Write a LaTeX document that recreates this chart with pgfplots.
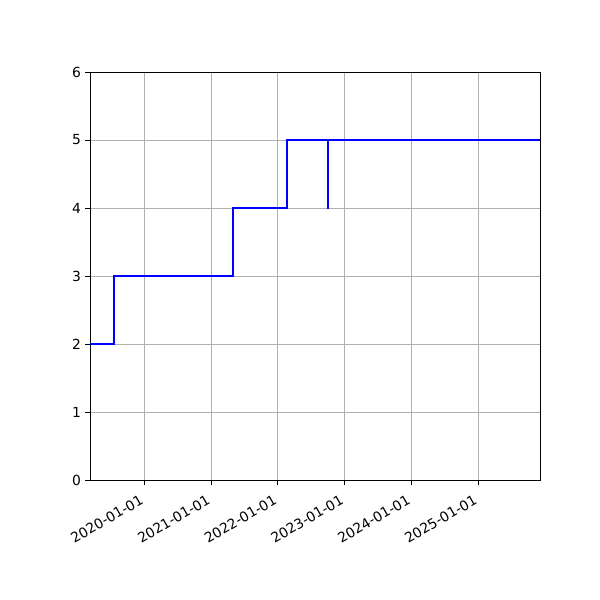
\documentclass[border=0pt]{standalone}
\usepackage{fontspec}
\setmainfont{DejaVu Sans}
\usepackage{pgfplots}
\pgfplotsset{compat=1.18}

% x is in days from 2020-01-01
\begin{document}
\begin{tikzpicture}
\fill[white] (-67.5pt,-90pt) rectangle (382.5pt,360pt);
\begin{axis}[
    at={(0,0)}, anchor=south west,
    scale only axis, width=337.5pt, height=306pt,
    xmin=-297, xmax=2165, ymin=0, ymax=6,
    xtick={0,366,731,1096,1461,1827},
    xticklabels={2020-01-01,2021-01-01,2022-01-01,2023-01-01,2024-01-01,2025-01-01},
    ytick={0,1,2,3,4,5,6},
    xtick pos=left, ytick pos=left,
    tick align=outside,
    major tick length=3.6pt,
    tick style={black, line width=0.6pt},
    axis line style={line width=0.6pt},
    grid=major,
    major grid style={color=black!31, line width=0.6pt},
    tick label style={font=\fontsize{10.4pt}{12pt}\selectfont},
    xticklabel style={xshift=-3.5pt, yshift=-5.5pt, rotate=30, anchor=north east, inner sep=1pt},
    yticklabel style={inner sep=1pt, xshift=-2pt},
    /pgf/number format/assume math mode=true,
]
\addplot[blue, line width=1.4pt, const plot, mark=none] coordinates {
    (-297,2) (-164,3) (485,4) (781,5) (1005,4) (1006,5) (2165,5)
};
\end{axis}
\end{tikzpicture}
\end{document}
